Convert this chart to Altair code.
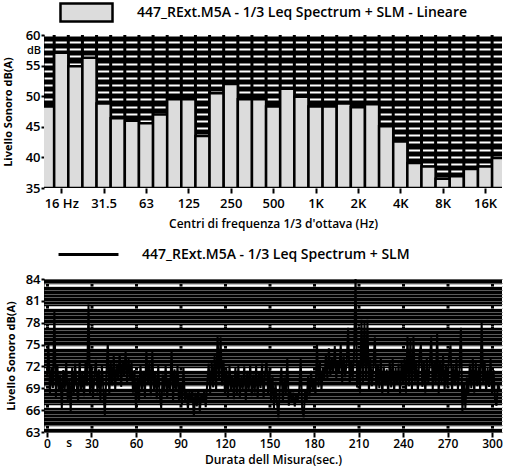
import altair as alt
import pandas as pd

FONT = "Open Sans"

TOP_SERIES = "447_RExt.M5A - 1/3 Leq Spectrum + SLM - Lineare"
BOTTOM_SERIES = "447_RExt.M5A - 1/3 Leq Spectrum + SLM"

# ---- 1/3 octave spectrum ----
bands = ["12.5", "16", "20", "25", "31.5", "40", "50", "63", "80", "100", "125",
         "160", "200", "250", "315", "400", "500", "630", "800", "1K", "1.25K",
         "1.6K", "2K", "2.5K", "3.15K", "4K", "5K", "6.3K", "8K", "10K", "12.5K",
         "16K", "20K"]
levels = [48.3, 57.1, 54.9, 56.3, 48.8, 46.4, 46.0, 45.6, 47.0, 49.5, 49.5,
          43.5, 50.5, 52.0, 49.5, 49.5, 48.3, 51.2, 49.9, 48.3, 48.3,
          48.8, 48.2, 48.7, 45.1, 42.6, 39.1, 38.5, 36.5, 36.9, 38.1,
          38.5, 39.9]
band_tick_names = ["16", "31.5", "63", "125", "250", "500", "1K", "2K", "4K", "8K", "16K"]
band_tick_labels = ["16 Hz", "31.5", "63", "125", "250", "500", "1K", "2K", "4K", "8K", "16K"]
level_ticks_top = [35, 40, 45, 50, 55, 60]
unit_top = ["dB"]

# ---- SLM time history (1 s) ----
time_s = list(range(306))
slm_db = [
    70.5, 75.0, 68.2, 71.8, 69.0, 79.7, 67.8, 72.3, 68.5, 70.9,
    66.3, 71.5, 68.8, 72.6, 67.4, 70.2, 65.8, 71.9, 68.1, 72.4,
    69.3, 67.2, 72.8, 68.6, 71.2, 67.9, 72.5, 69.4, 80.5, 68.3,
    72.1, 67.6, 70.8, 72.9, 68.4, 71.6, 67.3, 72.2, 68.9, 65.3,
    70.7, 75.3, 68.1, 72.6, 69.4, 73.5, 68.8, 72.4, 70.3, 73.8,
    69.2, 72.9, 70.6, 74.1, 69.8, 73.2, 70.1, 72.7, 68.4, 71.5,
    66.2, 70.8, 67.1, 72.3, 68.9, 71.4, 67.8, 74.3, 69.5, 72.6,
    67.9, 74.0, 68.6, 71.3, 67.5, 72.1, 68.2, 66.3, 70.9, 68.4,
    72.2, 67.7, 70.4, 68.8, 74.4, 67.2, 71.6, 68.5, 72.3, 67.0,
    69.8, 66.8, 71.9, 67.4, 68.9, 66.1, 68.6, 67.2, 68.8, 65.1,
    68.4, 66.5, 68.9, 65.8, 68.2, 67.0, 68.7, 66.4, 69.6, 72.4,
    68.3, 72.8, 69.1, 73.5, 68.6, 76.3, 70.2, 76.0, 69.4, 72.9,
    68.1, 71.7, 67.6, 72.2, 68.9, 70.8, 67.5, 71.9, 68.3, 72.1,
    67.8, 70.6, 68.9, 72.0, 67.3, 71.4, 68.6, 72.3, 67.9, 70.9,
    68.4, 72.1, 67.6, 71.3, 69.0, 72.4, 67.7, 71.1, 72.8, 68.2,
    71.6, 67.4, 70.8, 66.3, 69.9, 67.0, 65.0, 69.4, 71.8, 67.1,
    70.5, 68.3, 73.2, 66.6, 68.7, 67.2, 68.4, 66.5, 68.1, 67.3,
    68.6, 73.0, 66.2, 65.0, 68.8, 67.1, 70.6, 67.9, 71.4, 68.5,
    70.2, 68.0, 75.2, 69.1, 72.6, 68.7, 71.9, 70.4, 73.6, 70.1,
    74.5, 70.6, 73.1, 71.0, 74.8, 70.3, 72.7, 71.2, 75.0, 69.8,
    73.4, 70.5, 72.6, 77.3, 69.6, 72.9, 70.2, 73.8, 84.5, 69.1,
    72.5, 68.4, 78.4, 69.7, 78.3, 70.0, 78.4, 68.6, 73.1, 69.3,
    72.2, 76.0, 68.5, 72.4, 69.0, 73.3, 68.2, 72.0, 69.4, 71.6,
    68.3, 72.7, 69.1, 73.0, 68.6, 71.8, 69.5, 72.4, 68.2, 72.9,
    69.6, 73.2, 68.4, 76.3, 69.3, 75.8, 68.7, 76.1, 69.9, 72.5,
    68.5, 73.4, 75.0, 69.2, 72.8, 68.4, 73.1, 69.6, 72.2, 76.0,
    68.9, 72.6, 69.5, 76.5, 68.3, 72.9, 69.8, 73.6, 68.6, 72.3,
    69.2, 73.5, 74.9, 68.5, 72.1, 69.4, 73.0, 68.8, 71.7, 77.3,
    65.6, 69.8, 66.2, 70.5, 68.1, 72.4, 69.0, 73.1, 68.4, 72.6,
    69.3, 72.0, 68.7, 78.0, 69.6, 72.8, 68.5, 71.9, 69.2, 73.0,
    68.3, 71.5, 67.4, 66.6, 69.8, 68.9,
]
time_ticks = [0, 30, 60, 90, 120, 150, 180, 210, 240, 270, 300]
level_ticks_bottom = [63, 66, 69, 72, 75, 78, 81, 84]
unit_bottom = ["s"]

# ---- styling (grid texture) ----
top_stripes = [60 - 1.17 * k for k in range(22)]
bottom_stripes = [83.2, 80.15, 77.55, 74.65, 71.65, 69.2, 66.6, 63.7]
bottom_fine = [63 + 0.5 * k for k in range(43)]

# ---- tables ----
spec = pd.DataFrame({"band": bands, "level": levels})
spec["lo"] = list(range(len(bands)))
spec["hi"] = spec["lo"] + 1
spec["series"] = TOP_SERIES

tick_pos = [bands.index(b) + 0.5 for b in band_tick_names]
label_expr = ("[" + ",".join("'%s'" % s for s in band_tick_labels) + "][indexof(["
              + ",".join(str(p) for p in tick_pos) + "], datum.value)]")

ts = pd.DataFrame({"t": time_s, "db": slm_db})
ts["series"] = BOTTOM_SERIES

lab = dict(labelFont=FONT, labelFontSize=13, labelFontWeight=600, labelColor="black",
           titleFont=FONT, titleColor="black")

# ---------------- top panel ----------------
xs_top = alt.Scale(domain=[0.28, 32.7], nice=False, zero=False)
ys_top = alt.Scale(domain=[35, 60], nice=False, zero=False)

x_axis_top = alt.Axis(values=tick_pos, labelExpr=label_expr,
                      title="Centri di frequenza 1/3 d'ottava (Hz)",
                      grid=False, tickSize=5, tickWidth=2, tickColor="black",
                      domain=False, labelPadding=4, labelFlush=False,
                      labelOverlap=False, titleFontSize=12, titleFontWeight=600,
                      titlePadding=8, **lab)

edges = alt.Chart(spec).mark_rule(color="black", strokeWidth=3, clip=True).encode(
    x=alt.X("lo:Q", scale=xs_top, axis=x_axis_top),
    y=alt.Y(datum=35, scale=ys_top,
            axis=alt.Axis(orient="left", grid=True, gridColor="white", gridWidth=2,
                          gridOpacity=1, values=top_stripes, labels=False, ticks=False,
                          domain=False, title=None)),
    y2=alt.Y2(datum=60),
)

bars = alt.Chart(spec).mark_bar(stroke="black", strokeWidth=2.5, clip=True).encode(
    x=alt.X("lo:Q", scale=xs_top, axis=x_axis_top),
    x2="hi:Q",
    y=alt.Y("level:Q", scale=ys_top,
            axis=alt.Axis(orient="left", values=level_ticks_top,
                          title="Livello Sonoro dB(A)",
                          grid=False, tickSize=3, tickWidth=2, tickColor="black",
                          domain=False, labelPadding=1, titleFontSize=11,
                          titleFontWeight="bold", titlePadding=12, **lab)),
    y2=alt.Y2(datum=35),
    color=alt.Color("series:N", scale=alt.Scale(range=["#dcdcdc"]),
                    legend=alt.Legend(orient="none", legendX=32, legendY=-33, title=None,
                                      symbolType="M-2.89,-1H2.89V1H-2.89Z",
                                      symbolSize=324, symbolStrokeColor="black",
                                      symbolStrokeWidth=2.5, symbolFillColor="#dcdcdc",
                                      labelFont=FONT, labelFontSize=14,
                                      labelFontWeight=600, labelLimit=0,
                                      labelOffset=40, padding=0)),
)

db_unit = alt.Chart(pd.DataFrame({"unit": unit_top})).mark_text(
    align="right", baseline="middle", font=FONT, fontSize=11, fontWeight=600,
    color="black").encode(text="unit:N", x=alt.value(-3), y=alt.value(16))

top = alt.layer(edges, bars, db_unit).resolve_scale(y="independent").properties(
    width=458, height=153)

# ---------------- bottom panel ----------------
xs_bot = alt.Scale(domain=[-2.0, 306.7], nice=False, zero=False)
ys_bot = alt.Scale(domain=[63, 84], nice=False, zero=False)

x_axis_bot = alt.Axis(values=time_ticks, title="Durata dell Misura(sec.)",
                      grid=False, tickSize=5, tickWidth=2, tickColor="black",
                      domain=False, labelPadding=1, labelFlush=False,
                      labelFont=FONT, labelFontSize=12, labelFontWeight=600,
                      labelColor="black", titleFont=FONT, titleColor="black",
                      titleFontSize=12, titleFontWeight=600, titlePadding=5)

fine = alt.Chart(ts).mark_line(opacity=0).encode(
    x=alt.X("t:Q", scale=xs_bot, axis=x_axis_bot),
    y=alt.Y("db:Q", scale=ys_bot,
            axis=alt.Axis(orient="left", grid=True, gridColor="#5a5a5a", gridWidth=1,
                          values=bottom_fine, labels=False, ticks=False, domain=False,
                          title=None)),
)
white = alt.Chart(ts).mark_line(opacity=0).encode(
    x=alt.X("t:Q", scale=xs_bot, axis=x_axis_bot),
    y=alt.Y("db:Q", scale=ys_bot,
            axis=alt.Axis(orient="left", grid=True, gridColor="white", gridWidth=2.5,
                          gridDash=[41.5, 3], gridDashOffset=40,
                          values=bottom_stripes, labels=False, ticks=False,
                          domain=False, title=None)),
)
line = alt.Chart(ts).mark_line(strokeWidth=2, clip=True).encode(
    x=alt.X("t:Q", scale=xs_bot, axis=x_axis_bot),
    y=alt.Y("db:Q", scale=ys_bot,
            axis=alt.Axis(orient="left", values=level_ticks_bottom,
                          title="Livello Sonoro dB(A)",
                          grid=False, tickSize=3, tickWidth=2, tickColor="black",
                          domain=False, labelPadding=1, titleFontSize=11,
                          titleFontWeight="bold", titlePadding=9, **lab)),
    color=alt.Color("series:N", scale=alt.Scale(range=["black"]),
                    legend=alt.Legend(orient="none", legendX=34, legendY=-35, title=None,
                                      symbolType="M-3.33,0H3.33",
                                      symbolSize=324, symbolFillColor="transparent",
                                      symbolStrokeColor="black", symbolStrokeWidth=3,
                                      labelFont=FONT, labelFontSize=14,
                                      labelFontWeight=600, labelLimit=0,
                                      labelOffset=43, padding=0)),
)
s_unit = alt.Chart(pd.DataFrame({"unit": unit_bottom, "t": [15]})).mark_text(
    align="center", baseline="top", font=FONT, fontSize=12, fontWeight=600,
    color="black").encode(text="unit:N", x=alt.X("t:Q", scale=xs_bot, axis=x_axis_bot),
                          y=alt.value(159))

bottom = alt.layer(fine, white, line, s_unit).resolve_scale(y="independent").properties(
    width=458, height=153)

chart = alt.concat(top, bottom, columns=1, spacing=15).resolve_scale(
    color="independent").properties(
    padding={"left": 2, "top": 2, "right": 2, "bottom": 2},
    background="white",
).configure_view(fill="black", stroke=None)

chart.save("out.html", embed_options={"renderer": "svg", "actions": False})
